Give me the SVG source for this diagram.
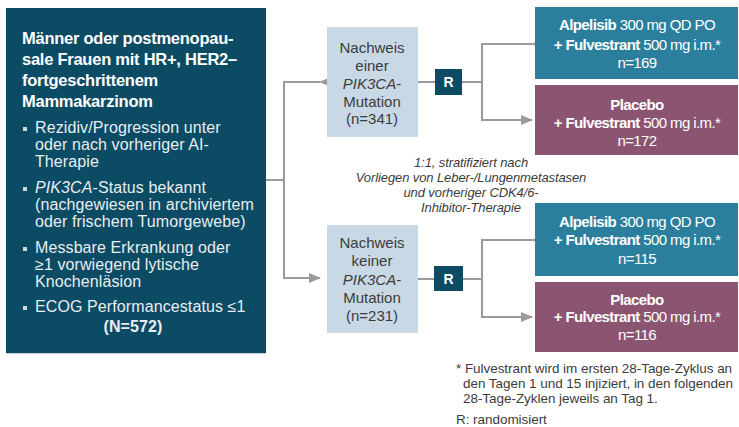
<svg xmlns="http://www.w3.org/2000/svg" width="739" height="427" viewBox="0 0 739 427">
<defs>
<marker id="ah" markerWidth="12" markerHeight="10" refX="11" refY="5" orient="auto" markerUnits="userSpaceOnUse">
<path d="M0,0 L12,5 L0,10 Z" fill="#9a9a9a"/>
</marker>
<style>
text{font-family:"Liberation Sans",Arial,sans-serif}
.title{fill:#fff;font-weight:bold;font-size:16.5px;letter-spacing:-0.25px}
.bul{fill:#e8eef1;font-size:16px;letter-spacing:0.1px}
.sq{fill:#d0d8dc}
.lb{fill:#c8d8e5}
.lt{fill:#3c3c3c;font-size:15px;text-anchor:middle}
.rb{fill:#0c4b64}
.rt{fill:#fff;font-weight:bold;font-size:14px;text-anchor:middle}
.arm{fill:#2b7f9c}
.plc{fill:#8b5571}
.at{fill:#fff;font-size:15px;text-anchor:middle;letter-spacing:-0.6px}
.b{font-weight:bold}
.con{fill:none;stroke:#9a9a9a;stroke-width:2}
.str{fill:#3c3c3c;font-size:13px;font-style:italic;text-anchor:middle;letter-spacing:-0.1px}
.fn{fill:#3c3c3c;font-size:13.5px;letter-spacing:-0.05px}
</style>
</defs>
<rect width="739" height="427" fill="#fff"/>

<g id="population">
<rect x="6" y="8" width="260" height="345" fill="#0c4b64"/>
<line x1="6" y1="353.5" x2="266" y2="353.5" stroke="#c9ccce" stroke-width="1"/>
<text class="title" x="22" y="44">Männer oder postmenopau-</text>
<text class="title" x="22" y="65">sale Frauen mit HR+, HER2–</text>
<text class="title" x="22" y="86">fortgeschrittenem</text>
<text class="title" x="22" y="107">Mammakarzinom</text>
<rect class="sq" x="23" y="127" width="4" height="4"/>
<text class="bul" x="35" y="133">Rezidiv/Progression unter</text>
<text class="bul" x="35" y="150">oder nach vorheriger AI-</text>
<text class="bul" x="35" y="167">Therapie</text>
<rect class="sq" x="23" y="187" width="4" height="4"/>
<text class="bul" x="35" y="193"><tspan font-style="italic">PIK3CA</tspan>-Status bekannt</text>
<text class="bul" x="35" y="210">(nachgewiesen in archiviertem</text>
<text class="bul" x="35" y="227">oder frischem Tumorgewebe)</text>
<rect class="sq" x="23" y="247" width="4" height="4"/>
<text class="bul" x="35" y="253">Messbare Erkrankung oder</text>
<text class="bul" x="35" y="270">≥1 vorwiegend lytische</text>
<text class="bul" x="35" y="287">Knochenläsion</text>
<rect class="sq" x="23" y="306" width="4" height="4"/>
<text class="bul" x="35" y="312">ECOG Performancestatus ≤1</text>
<text class="bul b" x="133" y="332" text-anchor="middle">(N=572)</text>
</g>

<g id="connectors">
<path class="con" d="M266,180 H284"/>
<path class="con" d="M320,82 H284 V278 H320" marker-start="url(#ah)" marker-end="url(#ah)"/>
<path class="con" d="M418,82 H435"/>
<path class="con" d="M462,82 H482"/>
<path class="con" d="M532,44 H482 V120 H532" marker-start="url(#ah)" marker-end="url(#ah)"/>
<path class="con" d="M418,279 H434"/>
<path class="con" d="M463,279 H482"/>
<path class="con" d="M532,240 H482 V317 H532" marker-start="url(#ah)" marker-end="url(#ah)"/>
</g>

<g id="mutated">
<rect class="lb" x="327" y="27" width="91" height="110"/>
<text class="lt" x="372" y="53">Nachweis</text>
<text class="lt" x="372" y="71">einer</text>
<text class="lt" x="372" y="89"><tspan font-style="italic">PIK3CA</tspan>-</text>
<text class="lt" x="372" y="107">Mutation</text>
<text class="lt" x="372" y="124">(n=341)</text>
</g>

<g id="r1">
<rect class="rb" x="435" y="69" width="27" height="26"/>
<text class="rt" x="448.5" y="87">R</text>
</g>

<g id="alpelisib1">
<rect class="arm" x="535" y="7" width="203" height="72"/>
<text class="at" x="637" y="30"><tspan class="b">Alpelisib</tspan> 300 mg QD PO</text>
<text class="at" x="637" y="50"><tspan class="b">+ Fulvestrant</tspan> 500 mg i.m.*</text>
<text class="at" x="637" y="68">n=169</text>
</g>

<g id="placebo1">
<rect class="plc" x="535" y="85" width="203" height="70"/>
<text class="at b" x="637" y="110">Placebo</text>
<text class="at" x="637" y="128"><tspan class="b">+ Fulvestrant</tspan> 500 mg i.m.*</text>
<text class="at" x="637" y="146">n=172</text>
</g>

<g id="stratification">
<text class="str" x="471" y="167">1:1, stratifiziert nach</text>
<text class="str" x="471" y="182">Vorliegen von Leber-/Lungenmetastasen</text>
<text class="str" x="471" y="197">und vorheriger CDK4/6-</text>
<text class="str" x="471" y="212">Inhibitor-Therapie</text>
</g>

<g id="wildtype">
<rect class="lb" x="327" y="225" width="91" height="108"/>
<text class="lt" x="372" y="248">Nachweis</text>
<text class="lt" x="372" y="266">keiner</text>
<text class="lt" x="372" y="285"><tspan font-style="italic">PIK3CA</tspan>-</text>
<text class="lt" x="372" y="303">Mutation</text>
<text class="lt" x="372" y="321">(n=231)</text>
</g>

<g id="r2">
<rect class="rb" x="434" y="266" width="29" height="25"/>
<text class="rt" x="448.5" y="284">R</text>
</g>

<g id="alpelisib2">
<rect class="arm" x="535" y="203" width="203" height="73"/>
<text class="at" x="637" y="227"><tspan class="b">Alpelisib</tspan> 300 mg QD PO</text>
<text class="at" x="637" y="245"><tspan class="b">+ Fulvestrant</tspan> 500 mg i.m.*</text>
<text class="at" x="637" y="264">n=115</text>
</g>

<g id="placebo2">
<rect class="plc" x="535" y="282" width="203" height="70"/>
<text class="at b" x="637" y="305">Placebo</text>
<text class="at" x="637" y="322"><tspan class="b">+ Fulvestrant</tspan> 500 mg i.m.*</text>
<text class="at" x="637" y="340">n=116</text>
</g>

<g id="footnote">
<text class="fn" x="456" y="373">* Fulvestrant wird im ersten 28-Tage-Zyklus an</text>
<text class="fn" x="463" y="388">den Tagen 1 und 15 injiziert, in den folgenden</text>
<text class="fn" x="463" y="403">28-Tage-Zyklen jeweils an Tag 1.</text>
<text class="fn" x="456" y="424">R: randomisiert</text>
</g>
</svg>
